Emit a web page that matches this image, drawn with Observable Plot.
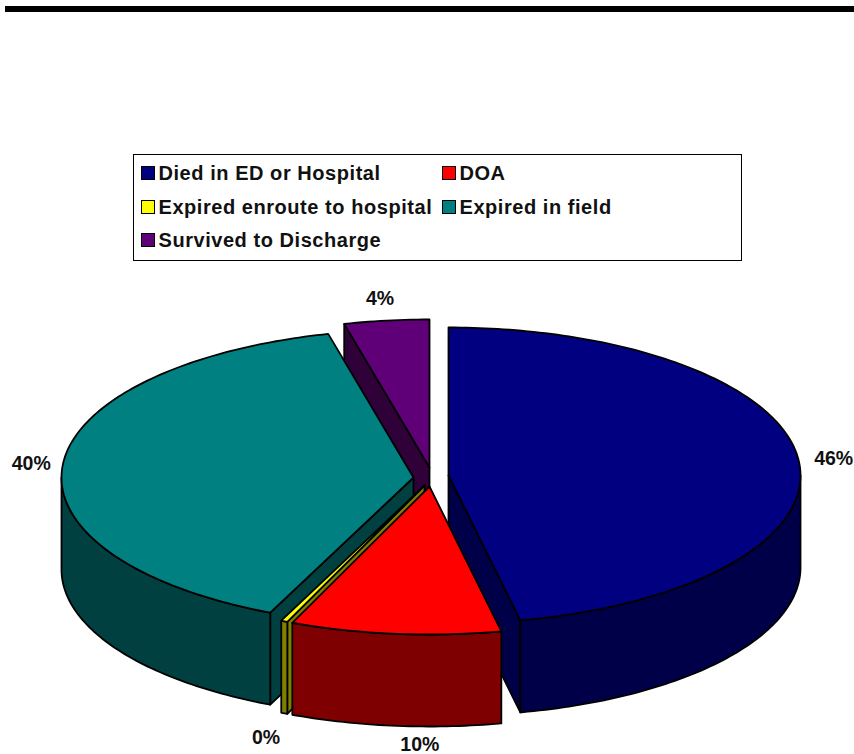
<!DOCTYPE html>
<html>
<head>
<meta charset="utf-8">
<script src="https://cdn.jsdelivr.net/npm/d3@7"></script>
<script src="https://cdn.jsdelivr.net/npm/@observablehq/plot@0.6"></script>
<style>
  html, body { margin: 0; padding: 0; background: #fff; }
  body { width: 854px; height: 754px; overflow: hidden; position: relative; font-family: "Liberation Sans", Arial, sans-serif; }
  #rule { position: absolute; left: 5px; right: 0; top: 6px; height: 6px; background: #000; }
  #legend { position: absolute; left: 132.5px; top: 154px; width: 607px; height: 105px; border: 1.5px solid #000; box-sizing: content-box; }
  .key { position: absolute; display: flex; align-items: center; font-weight: bold; font-size: 20px; letter-spacing: 0.55px; color: #111; white-space: nowrap; height: 24px; }
  .key i { display: block; width: 12px; height: 12px; border: 1.5px solid #000; margin-right: 4px; }
  #pie { position: absolute; left: 0; top: 270px; }
</style>
</head>
<body>
<div id="rule"></div>
<div id="legend"></div>
<div id="pie"></div>
<script>
// Outcome shares, in percent, clockwise from twelve o'clock
const outcomes = ["Died in ED or Hospital", "DOA", "Expired enroute to hospital", "Expired in field", "Survived to Discharge"];
const shares = [46.4, 9.65, 0.3, 39.75, 3.9];

// Colours of the slice tops and of their darker side walls
const topColors = ["#000080", "#ff0000", "#ffff00", "#008080", "#5f0078"];
const wallColors = ["#000048", "#7f0000", "#808000", "#004040", "#300038"];

// Pie proportions: one chart unit is the pie radius, drawn at this many pixels
const unitPx = 352;
const tilt = 148 / unitPx;
const depth = 92 / unitPx;

// The tilted view pushes angles at the front of the pie forward by up to this many degrees
const perspectiveShift = 1.2;

// How far each slice is pulled out of the pie, in pixels (right, down)
const pullRight = [18, -1, -6, -17, -1];
const pullDown = [1, 12, 11, 3, -7];

// Label placement: distance along the slice's middle angle, and a sideways nudge in pixels
const labelReach = [1.1, 1.13, 1.18, 1.09, 1.15];
const labelNudge = [0, 29, 7, 0, 0];

// Painting order, back of the pie first
const paintOrder = [4, 3, 0, 2, 1];

const toRad = (deg) => (deg * Math.PI) / 180;
const seen = (deg) => deg + (perspectiveShift * (1 - Math.cos(toRad(deg)))) / 2;

// Start and end angle of each slice
let running = 0;
const slices = outcomes.map((name, i) => {
  const start = seen((running / 100) * 360);
  running += shares[i];
  const end = seen((running / 100) * 360);
  return {name, i, start, end, mid: (start + end) / 2, ox: pullRight[i] / unitPx, oy: -pullDown[i] / unitPx};
});

// Project a point on the rim of a slice to chart units; drop lowers it to the pie's underside
const rim = (s, angle, reach = 1, drop = 0) => ({
  x: s.ox + reach * Math.sin(toRad(angle)),
  y: s.oy + reach * tilt * Math.cos(toRad(angle)) - drop
});

const arcSteps = (from, to) => d3.range(from, to, 1).concat([to]);

// Closed polygons for every visible face of every slice
const faces = [];
const addFace = (id, color, points) => {
  [...points, points[0]].forEach((p) => faces.push({...p, face: id, color}));
};
for (const k of paintOrder) {
  const s = slices[k];
  const wall = wallColors[s.i];
  const startWall = Math.sin(toRad(s.start)) < -1e-9;
  const endWall = Math.sin(toRad(s.end)) > 1e-9;
  if (startWall) {
    addFace(`${k}-start`, wall, [rim(s, 0, 0), rim(s, s.start), rim(s, s.start, 1, depth), rim(s, 0, 0, depth)]);
  }
  if (endWall) {
    addFace(`${k}-end`, wall, [rim(s, 0, 0), rim(s, s.end), rim(s, s.end, 1, depth), rim(s, 0, 0, depth)]);
  }
  // Outer wall only where the rim faces the viewer
  const from = Math.max(s.start, 90);
  const to = Math.min(s.end, 270);
  if (to > from) {
    const along = arcSteps(from, to);
    addFace(`${k}-outer`, wall, [
      ...along.map((a) => rim(s, a)),
      ...along.slice().reverse().map((a) => rim(s, a, 1, depth))
    ]);
  }
  addFace(`${k}-top`, topColors[s.i], [rim(s, 0, 0), ...arcSteps(s.start, s.end).map((a) => rim(s, a))]);
}

// Percentage labels, dropped below the wall for slices at the front
const labels = slices.map((s) => {
  const p = rim(s, s.mid, labelReach[s.i], Math.cos(toRad(s.mid)) < -0.5 ? depth : 0);
  return {x: p.x + labelNudge[s.i] / unitPx, y: p.y, text: `${Math.round(shares[s.i])}%`};
});

const width = 854, height = 484, centerX = 430, centerY = 204;

const chart = Plot.plot({
  width,
  height,
  margin: 0,
  x: {domain: [-centerX / unitPx, (width - centerX) / unitPx], range: [0, width], axis: null},
  y: {domain: [(centerY - height) / unitPx, centerY / unitPx], range: [height, 0], axis: null},
  color: {type: "identity"},
  style: {background: "transparent", overflow: "visible"},
  marks: [
    Plot.line(faces, {
      x: "x",
      y: "y",
      z: "face",
      fill: "color",
      stroke: "#000",
      strokeWidth: 1.8,
      strokeLinejoin: "round"
    }),
    Plot.text(labels, {
      x: "x",
      y: "y",
      text: "text",
      fill: "#111",
      fontWeight: "bold",
      fontSize: 19.5,
      fontFamily: "Liberation Sans, Arial, sans-serif"
    })
  ]
});
document.getElementById("pie").appendChild(chart);

// Legend entries laid out in two columns, as in a spreadsheet chart legend
const legend = document.getElementById("legend");
const columnLeft = [7, 308];
const rowTop = [6, 40, 73];
outcomes.forEach((name, i) => {
  const key = document.createElement("div");
  key.className = "key";
  key.style.left = columnLeft[i % 2] + "px";
  key.style.top = rowTop[Math.floor(i / 2)] + "px";
  const swatch = document.createElement("i");
  swatch.style.background = topColors[i];
  key.appendChild(swatch);
  key.appendChild(document.createTextNode(name));
  legend.appendChild(key);
});
</script>
</body>
</html>
